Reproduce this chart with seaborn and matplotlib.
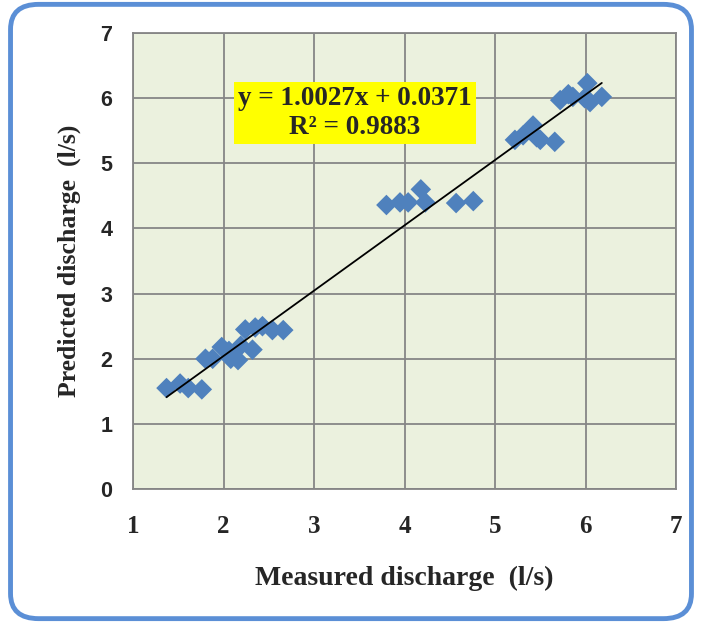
import numpy as np
import pandas as pd
import seaborn as sns
import matplotlib.pyplot as plt
from matplotlib.patches import FancyBboxPatch

# measured vs predicted discharge (l/s)
measured = [1.37, 1.52, 1.61, 1.76, 1.80, 1.88, 1.98, 2.06, 2.16, 2.08, 2.19,
            2.24, 2.35, 2.43, 2.54, 2.66, 2.32,
            3.80, 3.95, 4.04, 4.18, 4.23, 4.57, 4.76,
            5.22, 5.31, 5.42, 5.46, 5.50, 5.66, 5.72, 5.81, 5.86, 5.99, 6.02, 6.05, 6.18]
predicted = [1.55, 1.62, 1.55, 1.53, 2.00, 2.00, 2.18, 2.12, 1.98, 2.00, 2.20,
             2.45, 2.48, 2.50, 2.44, 2.44, 2.14,
             4.36, 4.40, 4.40, 4.60, 4.40, 4.39, 4.42,
             5.36, 5.43, 5.58, 5.40, 5.36, 5.33, 5.97, 6.06, 6.02, 6.00, 6.23, 5.94, 6.02]
slope, intercept, r2 = 1.0027, 0.0371, 0.9883

df = pd.DataFrame({"measured": measured, "predicted": predicted})

sns.set_style("white")
plt.rcParams['font.family'] = ['Liberation Serif', 'DejaVu Serif']

fig = plt.figure(figsize=(7.02, 6.23), dpi=100)
ax = fig.add_axes([0.1895, 0.215, 0.7735, 0.732])
ax.set_facecolor("#EBF1DE")

sns.scatterplot(data=df, x="measured", y="predicted", marker="D", s=110,
                color="#4F81BD", edgecolor="none", ax=ax, zorder=3)

# trend line from the fitted equation
xs = np.array([df.measured.min(), df.measured.max()])
ax.plot(xs, slope * xs + intercept, color="black", lw=1.3, zorder=4)

ax.set_xlim(1, 7)
ax.set_ylim(0, 7)
ax.set_xticks(range(1, 8))
ax.set_yticks(range(0, 8))
ax.grid(True, color="#868686", lw=1.3)
ax.set_axisbelow(True)
for sp in ax.spines.values():
    sp.set_color("#868686")
    sp.set_linewidth(1.3)
ax.tick_params(axis="both", direction="out", length=7, width=1.3, color="#868686")
ax.tick_params(axis="x", pad=12)
ax.tick_params(axis="y", pad=8)

for lab in ax.get_xticklabels():
    lab.set_fontfamily("Liberation Serif")
    lab.set_fontweight("bold")
    lab.set_fontsize(18)
for lab in ax.get_yticklabels():
    lab.set_fontfamily("Liberation Sans")
    lab.set_fontweight("bold")
    lab.set_fontsize(15.5)

ax.set_xlabel("Measured discharge  (l/s)", fontsize=20, fontweight="bold", labelpad=20)
ax.set_ylabel("Predicted discharge  (l/s)", fontsize=18.5, fontweight="bold", labelpad=14)

ax.text(3.45, 5.77, f"y = {slope}x + {intercept}\nR² = {r2}",
        ha="center", va="center", fontsize=19.5, fontweight="bold",
        linespacing=1.2,
        bbox=dict(boxstyle="square,pad=0.15", fc="#FFFF00", ec="none"), zorder=5)

# rounded frame around the chart
frame = FancyBboxPatch((0.015, 0.007), 0.97, 0.986,
                       boxstyle="round,pad=0,rounding_size=0.04",
                       transform=fig.transFigure, fill=False,
                       ec="#5B8FD6", lw=3.5, zorder=0)
fig.patches.append(frame)

fig.savefig("out.png", dpi=100)
